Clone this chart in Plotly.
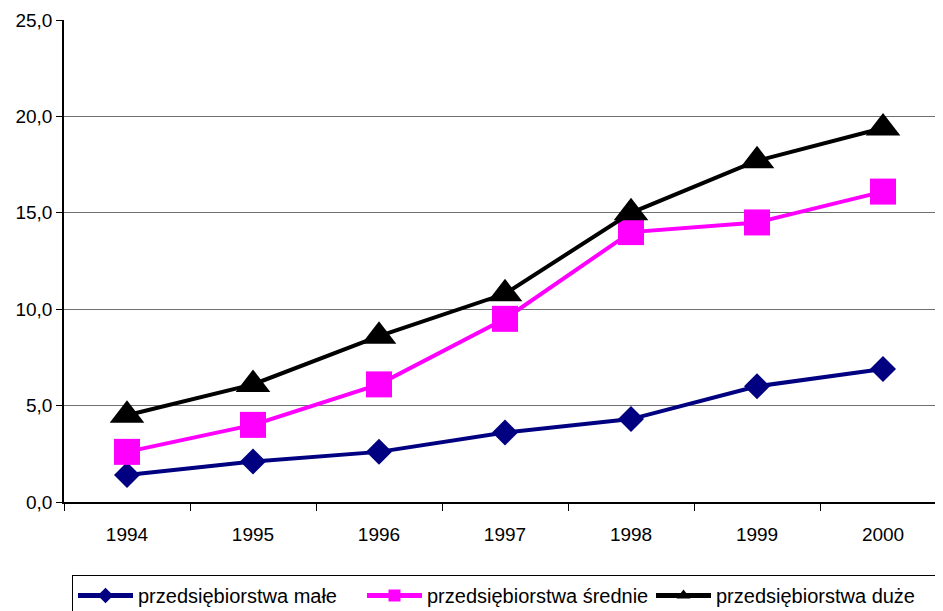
import plotly.graph_objects as go

years = ["1994", "1995", "1996", "1997", "1998", "1999", "2000"]
male = [1.4, 2.1, 2.6, 3.6, 4.3, 6.0, 6.9]
srednie = [2.6, 4.0, 6.1, 9.5, 14.0, 14.5, 16.1]
duze = [4.5, 6.1, 8.6, 10.8, 15.0, 17.7, 19.4]
names = ["przedsiębiorstwa małe", "przedsiębiorstwa średnie", "przedsiębiorstwa duże"]
y_ticks = [0, 5, 10, 15, 20, 25]

W, H = 935, 603  # page body has an 8px margin
xs = list(range(len(years)))
fig = go.Figure()
fig.add_trace(go.Scatter(x=xs, y=male, name=names[0], mode="lines+markers",
                         line=dict(color="#000080", width=4),
                         marker=dict(symbol="diamond", size=20, color="#000080")))
fig.add_trace(go.Scatter(x=xs, y=srednie, name=names[1], mode="lines+markers",
                         line=dict(color="#FF00FF", width=4),
                         marker=dict(symbol="square", size=26, color="#FF00FF")))
fig.add_trace(go.Scatter(x=xs, y=duze, name=names[2], mode="lines+markers",
                         line=dict(color="#000000", width=4),
                         marker=dict(symbol="triangle-up", size=30, color="#000000")))

fig.update_layout(
    width=W, height=H,
    margin=dict(l=56, r=0, t=12, b=109, autoexpand=False),
    paper_bgcolor="white", plot_bgcolor="white",
    font=dict(family="Liberation Sans, Arial, sans-serif", size=19, color="black"),
    separators=",.",
    showlegend=True,
    legend=dict(orientation="h", xref="container", x=64 / W, xanchor="left",
                yref="container", y=(H - 567) / H, yanchor="top",
                bordercolor="black", borderwidth=1, bgcolor="white",
                font=dict(size=20), itemwidth=55, itemsizing="constant",
                entrywidth=219, entrywidthmode="pixels", tracegroupgap=0),
)
fig.update_xaxes(
    range=[-0.5, 6.476], tickmode="array", tickvals=xs, ticktext=years,
    ticks="", showgrid=False, zeroline=False, automargin=False,
    showline=True, linecolor="black", linewidth=1.5,
    minor=dict(tickmode="array", tickvals=[i - 0.5 for i in range(len(years) + 1)],
               ticks="outside", ticklen=7, tickcolor="black", tickwidth=1, showgrid=False),
    ticklabelstandoff=14,
)
fig.update_yaxes(
    range=[0, 25], tickmode="array", tickvals=y_ticks, tickformat=".1f",
    showgrid=True, gridcolor="#707070", gridwidth=1.2, automargin=False,
    zeroline=False, showline=True, linecolor="black", linewidth=1.5,
    ticks="outside", ticklen=6, tickcolor="black",
)
fig.write_html("out.html")
